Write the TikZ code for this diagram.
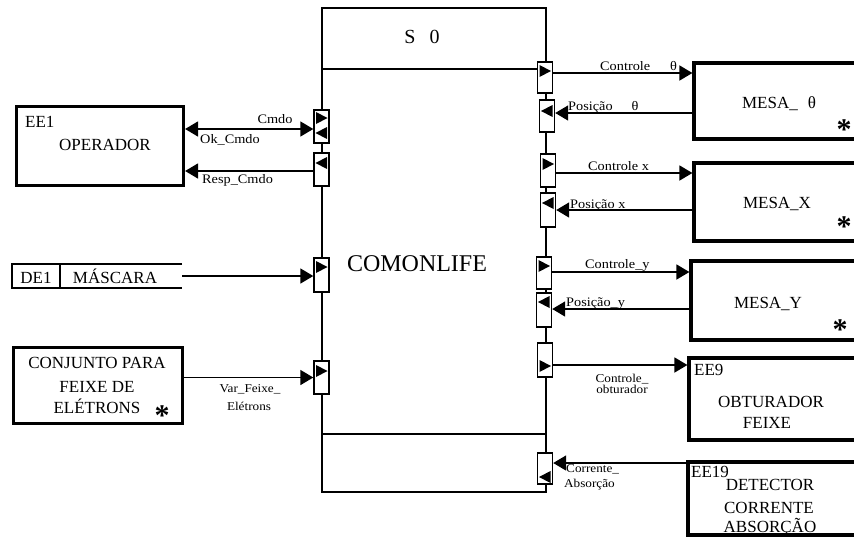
\documentclass[tikz,border=0pt]{standalone}
\usepackage{fontspec}
\setmainfont{Liberation Serif}
\newfontfamily\lblfont[FakeStretch=1.1]{Liberation Serif}
\usetikzlibrary{arrows.meta}
\newcommand\trirt[2]{\fill ([shift={(-5.5,#2-6)}]#1.center) -- ++(11.5,6) -- ++(-11.5,6) -- cycle;}
\newcommand\trilt[2]{\fill ([shift={(5.5,#2-6)}]#1.center) -- ++(-11.5,6) -- ++(11.5,6) -- cycle;}
\tikzset{
  thinln/.style={line width=1.4pt},
  bigbox/.style={draw, line width=3.2pt, inner sep=0pt},
  port/.style={draw, fill=white, line width=1.4pt, minimum width=15pt, inner sep=0pt},
  arr/.style={line width=1.6pt, -{Triangle[length=13pt,width=15pt]}},
  biarr/.style={line width=1.6pt, {Triangle[length=13pt,width=15pt]}-{Triangle[length=13pt,width=15pt]}},
  boxtxt/.style={font=\fontsize{17}{20}\selectfont, inner sep=0pt, anchor=base},
  lbl/.style={font=\lblfont\fontsize{13}{13}\selectfont, inner sep=0pt, anchor=base west},
  lblc/.style={font=\lblfont\fontsize{12}{12}\selectfont, inner sep=0pt, anchor=base},
  star/.style={font=\bfseries\fontsize{30}{30}\selectfont, inner sep=0pt, anchor=north},
}
\begin{document}
\begin{tikzpicture}[x=1pt,y=-1pt]
\useasboundingbox (0,0) rectangle (854,544);
\clip (0,0) rectangle (854,544);

% main block
\node[draw, thinln, minimum width=224pt, minimum height=484pt, inner sep=0pt] (main) at (434,250) {};
\coordinate (s0l) at (322,69);
\coordinate (lowl) at (322,434);
\draw[thinln] (s0l) -- (s0l -| main.east);
\draw[thinln] (lowl) -- (lowl -| main.east);
\node[font=\fontsize{20}{20}\selectfont, inner sep=0pt, anchor=base] (s0) at (422,43) {S\hspace{14pt}0};
\node[font=\fontsize{24}{24}\selectfont, inner sep=0pt, anchor=base] (com) at (417,271) {COMONLIFE};

% ports
\node[port, minimum height=33pt] (pL1) at (321.5,126.5) {};
\node[port, minimum height=33pt] (pL2) at (321.5,169.5) {};
\node[port, minimum height=34pt] (pL3) at (321.5,275) {};
\node[port, minimum height=33pt] (pL4) at (321.5,377.5) {};
\node[port, minimum height=31pt] (pR1) at (545,77.5) {};
\node[port, minimum height=32pt] (pR2) at (547,116) {};
\node[port, minimum height=33pt] (pR3) at (548,170.5) {};
\node[port, minimum height=34pt] (pR4) at (548,210) {};
\node[port, minimum height=32pt] (pR5) at (544,273) {};
\node[port, minimum height=34pt] (pR6) at (544,310) {};
\node[port, minimum height=34pt] (pR7) at (545,360) {};
\node[port, minimum height=31pt] (pR8) at (545,468.5) {};
\trirt{pL1}{-8.5}
\trilt{pL1}{6.5}
\trilt{pL2}{-6.5}
\trirt{pL3}{-8}
\trirt{pL4}{-6.5}
\trirt{pR1}{-6.5}
\trilt{pR2}{-5}
\trirt{pR3}{-6.5}
\trilt{pR4}{-7}
\trirt{pR5}{-7}
\trilt{pR6}{-8}
\trirt{pR7}{6}
\trilt{pR8}{8.5}

% left boxes
\node[bigbox, minimum width=167pt, minimum height=79pt] (opr) at (100,146) {};
\node[boxtxt, anchor=base west] (ee1) at (25,127) {EE1};
\node[boxtxt] (oprt) at (105,150) {OPERADOR};

\node[minimum width=170pt, minimum height=24pt, inner sep=0pt] (de1) at (97,276) {};
\draw[line width=1.6pt] (de1.north east) -- (de1.north west) -- (de1.south west) -- (de1.south east);
\draw[line width=1.6pt] ([xshift=48pt]de1.north west) -- ([xshift=48pt]de1.south west);
\node[boxtxt] (de1t) at (36,283) {DE1};
\node[boxtxt] (mast) at (115,283) {MÁSCARA};

\node[bigbox, minimum width=169pt, minimum height=76pt] (conj) at (98,385.5) {};
\node[boxtxt] (c1) at (97,368) {CONJUNTO PARA};
\node[boxtxt] (c2) at (97,392) {FEIXE DE};
\node[boxtxt] (c3) at (97,413) {ELÉTRONS};
\node[star] (cs) at (162,406) {*};

% right boxes
\node[bigbox, minimum width=180pt, minimum height=76pt] (mt) at (784,101) {};
\node[boxtxt] (mtt) at (779,108) {MESA\_\hspace{10pt}θ};
\node[star] (mts) at (844,120) {*};
\node[bigbox, minimum width=180pt, minimum height=78pt] (mx) at (784,202) {};
\node[boxtxt] (mxt) at (777,208) {MESA\_X};
\node[star] (mxs) at (844,217) {*};
\node[bigbox, minimum width=180pt, minimum height=79pt] (my) at (781,300.5) {};
\node[boxtxt] (myt) at (768,308) {MESA\_Y};
\node[star] (mys) at (840,320) {*};
\node[bigbox, minimum width=180pt, minimum height=82pt] (ee9) at (779,399) {};
\node[boxtxt, anchor=base west] (ee9a) at (694,375) {EE9};
\node[boxtxt] (ee9b) at (771,407) {OBTURADOR};
\node[boxtxt] (ee9c) at (767,428) {FEIXE};
\node[bigbox, minimum width=180pt, minimum height=73pt] (ee19) at (778,498.5) {};
\node[boxtxt, anchor=base west] (ee19a) at (691,477) {EE19};
\node[boxtxt] (ee19b) at (770,490) {DETECTOR};
\node[boxtxt] (ee19c) at (769,513) {CORRENTE};
\node[boxtxt] (ee19d) at (770,532) {ABSORÇÃO};

% connectors left
\draw[biarr] (opr.east |- 0,129) -- (pL1.west |- 0,129);
\draw[arr] (pL2.west |- 0,171) -- (opr.east |- 0,171);
\draw[arr] (de1.east) -- (de1.east -| pL3.west);
\draw[arr] (conj.east |- pL4) -- (pL4.west);
\node[lbl, anchor=base] (l1) at (275,123) {Cmdo};
\node[lbl] (l2) at (200,143) {Ok\_Cmdo};
\node[lbl] (l3) at (202,183) {Resp\_Cmdo};
\node[lblc] (l4) at (250,392) {Var\_Feixe\_};
\node[lblc] (l5) at (249,410) {Elétrons};

% connectors right
\draw[arr] (pR1.east |- 0,73) -- (mt.west |- 0,73);
\draw[arr] (mt.west |- 0,113) -- (pR2.east |- 0,113);
\draw[arr] (pR3.east |- 0,173) -- (mx.west |- 0,173);
\draw[arr] (mx.west |- 0,210) -- (pR4.east |- 0,210);
\draw[arr] (pR5.east |- 0,272) -- (my.west |- 0,272);
\draw[arr] (my.west |- 0,309) -- (pR6.east |- 0,309);
\draw[arr] (pR7.east |- 0,365) -- (ee9.west |- 0,365);
\draw[arr] (ee19.west |- 0,463) -- (pR8.east |- 0,463);
\node[lbl] (r1) at (600,70) {Controle\hspace{20pt}θ};
\node[lbl] (r2) at (568,110) {Posição\hspace{19pt}θ};
\node[lbl] (r3) at (588,170) {Controle x};
\node[lbl] (r4) at (570,208) {Posição x};
\node[lbl] (r5) at (585,268) {Controle\_y};
\node[lbl] (r6) at (566,306) {Posição\_y};
\node[lblc] (r7) at (622,382) {Controle\_};
\node[lblc] (r8) at (622,393) {obturador};
\node[lblc, anchor=base west] (r9) at (566,472) {Corrente\_};
\node[lblc, anchor=base west] (r10) at (564,487) {Absorção};
\end{tikzpicture}
\end{document}
